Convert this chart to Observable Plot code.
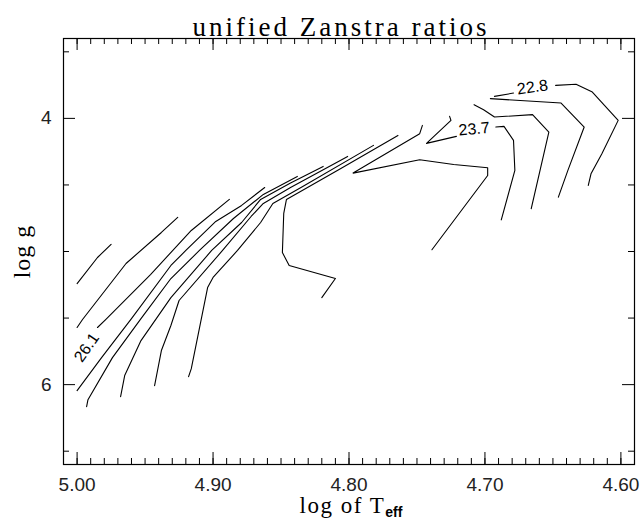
<!DOCTYPE html>
<html><head><meta charset="utf-8">
<script src="https://cdn.jsdelivr.net/npm/d3@7"></script>
<script src="https://cdn.jsdelivr.net/npm/@observablehq/plot@0.6"></script>
<style>body{margin:0;background:#fff}</style>
</head><body><div id="chart"></div>
<script>
// ---- data: contour polylines as [log Teff, log g] ----
const bundle1 = [[5.000,5.241],[4.985,5.045],[4.975,4.947]];
const bundle2 = [[5.000,5.571],[4.996,5.511],[4.964,5.090],[4.938,4.857],[4.926,4.744]];
const bundle3 = [[4.985,5.571],[4.979,5.511],[4.946,5.173],[4.916,4.842],[4.888,4.609]];
const bundle4 = [[5.000,6.045],[4.982,5.797],[4.960,5.504],[4.931,5.105],[4.920,4.992],[4.898,4.774],[4.879,4.654],[4.862,4.519]];
const bundle5 = [[4.993,6.165],[4.992,6.113],[4.974,5.797],[4.953,5.504],[4.931,5.203],[4.910,4.992],[4.885,4.752],[4.863,4.571],[4.838,4.436]];
const bundle6 = [[4.968,6.090],[4.965,5.932],[4.953,5.669],[4.931,5.346],[4.901,4.992],[4.879,4.782],[4.865,4.609],[4.843,4.485],[4.819,4.361]];
const bundle7 = [[4.943,6.008],[4.938,5.744],[4.931,5.556],[4.925,5.368],[4.893,4.992],[4.872,4.737],[4.863,4.639],[4.843,4.519],[4.801,4.286]];
const bundle8 = [[4.918,5.940],[4.916,5.880],[4.904,5.271],[4.900,5.195],[4.882,4.992],[4.865,4.782],[4.856,4.639],[4.835,4.517],[4.782,4.203]];
const hook = [[4.820,5.346],[4.810,5.203],[4.844,5.105],[4.849,5.008],[4.848,4.714],[4.846,4.609],[4.806,4.376],[4.764,4.128]];
const tipLoop = [[4.746,4.053],[4.748,4.115],[4.797,4.411],[4.748,4.311],[4.723,4.346],[4.698,4.371],[4.698,4.429],[4.739,4.987]];
const c237a = [[4.726,3.985],[4.725,4.015],[4.743,4.188],[4.721,4.135]];
const c237b = [[4.692,4.065],[4.686,4.060],[4.679,4.165],[4.678,4.391],[4.688,4.762]];
const right3 = [[4.708,3.897],[4.701,3.935],[4.693,3.990],[4.665,3.972],[4.653,4.103],[4.666,4.679]];
const right2 = [[4.696,3.852],[4.644,3.885],[4.627,4.065],[4.639,4.391],[4.646,4.592]];
const c228a = [[4.693,3.835],[4.679,3.810]];
const c228b = [[4.648,3.752],[4.633,3.744],[4.621,3.802],[4.602,4.015],[4.614,4.265],[4.622,4.416],[4.624,4.504]];

const contourLabels = ["22.8", "23.7", "26.1"];
const labelX = [4.665, 4.708, 4.993];
const labelY = [3.767, 4.080, 5.722];

const xMajorTicks = [5.00, 4.90, 4.80, 4.70, 4.60];
const xTickLabels = ["5.00", "4.90", "4.80", "4.70", "4.60"];
const yMajorTicks = [4, 6];
const yTickLabels = ["4", "6"];
const yMinorTicks = [3.5, 4.5, 5, 5.5, 6.5];
const xMinorTicks = d3.range(459, 502).map(v => v / 100);

const titleText = "unified Zanstra ratios";
const xTitle = "log of T";
const xTitleSub = "eff";
const yTitle = "log g";

// ---- build table ----
const pieces = [bundle1,bundle2,bundle3,bundle4,bundle5,bundle6,bundle7,bundle8,hook,tipLoop,c237a,c237b,right3,right2,c228a,c228b];
const lineData = pieces.flatMap((p, i) => p.map(([x, y]) => ({x, y, id: i})));
const labelData = contourLabels.map((t, i) => ({t, x: labelX[i], y: labelY[i]}));

const W = 644, H = 521, ML = 63, MR = 10, MT = 38, MB = 57;
const FW = W - ML - MR, FH = H - MT - MB;
const sans = "'Liberation Sans', Arial, sans-serif";
const serif = "'Liberation Serif', 'Times New Roman', serif";

const plot = Plot.plot({
  width: W, height: H,
  marginLeft: ML, marginRight: MR, marginTop: MT, marginBottom: MB,
  x: {domain: [5.01, 4.59], axis: null},
  y: {domain: [6.6, 3.4], axis: null},
  style: {background: "#fff", overflow: "visible"},
  marks: [
    Plot.frame({stroke: "#000", strokeWidth: 1.2}),
    Plot.tickX(xMajorTicks, {x: d => d, insetTop: FH - 12, stroke: "#000"}),
    Plot.tickX(xMajorTicks, {x: d => d, insetBottom: FH - 12, stroke: "#000"}),
    Plot.tickX(xMinorTicks, {x: d => d, insetTop: FH - 6, stroke: "#000"}),
    Plot.tickX(xMinorTicks, {x: d => d, insetBottom: FH - 6, stroke: "#000"}),
    Plot.tickY(yMajorTicks, {y: d => d, insetRight: FW - 12, stroke: "#000"}),
    Plot.tickY(yMajorTicks, {y: d => d, insetLeft: FW - 12, stroke: "#000"}),
    Plot.tickY(yMinorTicks, {y: d => d, insetRight: FW - 6, stroke: "#000"}),
    Plot.tickY(yMinorTicks, {y: d => d, insetLeft: FW - 6, stroke: "#000"}),
    Plot.line(lineData, {x: "x", y: "y", z: "id", stroke: "#000", strokeWidth: 1.1}),
    Plot.text(labelData.filter(d => d.t === "22.8"), {x: "x", y: "y", text: "t", rotate: -8, fontSize: 16, fontFamily: sans, fill: "#000"}),
    Plot.text(labelData.filter(d => d.t === "23.7"), {x: "x", y: "y", text: "t", rotate: -5, fontSize: 16, fontFamily: sans, fill: "#000"}),
    Plot.text(labelData.filter(d => d.t === "26.1"), {x: "x", y: "y", text: "t", rotate: -55, fontSize: 16, fontFamily: sans, fill: "#000"}),
    Plot.text(xMajorTicks, {x: d => d, text: (d, i) => xTickLabels[i], frameAnchor: "bottom", dy: 26, fontSize: 19, fontFamily: sans, fill: "#222"}),
    Plot.text(yMajorTicks, {y: d => d, text: (d, i) => yTickLabels[i], frameAnchor: "left", dx: -12, textAnchor: "end", fontSize: 19, fontFamily: sans, fill: "#222"}),
    Plot.text([titleText], {text: d => d, frameAnchor: "top", dy: -22, dx: -8, fontSize: 27, fontFamily: serif, fill: "#000"}),
    Plot.text([xTitle], {text: d => d, frameAnchor: "bottom", dy: 48, dx: 2, fontSize: 23, fontFamily: serif, fill: "#000"}),
    Plot.text([yTitle], {text: d => d, frameAnchor: "left", dx: -41, rotate: -90, textAnchor: "middle", fontSize: 24, fontFamily: serif, fill: "#000"})
  ]
});

// subscript "eff" on the x title
d3.select(plot).selectAll("text").each(function() {
  if (this.textContent === xTitle) {
    d3.select(this).attr("letter-spacing", 1.5).append("tspan").attr("font-size", 14).attr("font-weight", "bold")
      .attr("font-family", sans).attr("dy", "0.35em").attr("letter-spacing", 0).text(xTitleSub);
  }
  if (this.textContent === titleText) d3.select(this).attr("letter-spacing", 3);
  if (this.textContent === yTitle) d3.select(this).attr("letter-spacing", 1);
});

document.getElementById("chart").appendChild(plot);
</script>
</body></html>
